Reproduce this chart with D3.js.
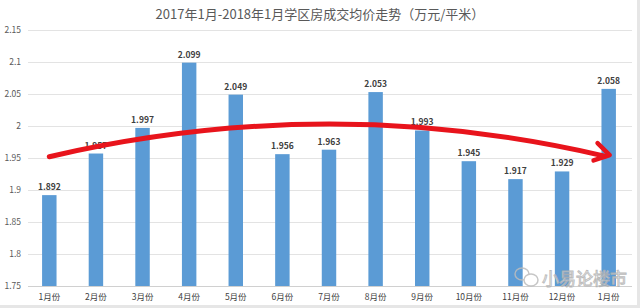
<!DOCTYPE html>
<html><head><meta charset="utf-8">
<script src="https://cdn.jsdelivr.net/npm/d3@7"></script>
<style>
body{margin:0;background:#fff;}
svg{display:block;font-family:"Noto Sans CJK SC","Noto Sans",sans-serif;}
</style></head>
<body><svg id="c" width="640" height="308"></svg>
<script>
const categories = ["1月份","2月份","3月份","4月份","5月份","6月份","7月份","8月份","9月份","10月份","11月份","12月份","1月份"];
const values = [1.892,1.957,1.997,2.099,2.049,1.956,1.963,2.053,1.993,1.945,1.917,1.929,2.058];
const yTicks = [1.75,1.8,1.85,1.9,1.95,2,2.05,2.1,2.15];
const yTickLabels = ["1.75","1.8","1.85","1.9","1.95","2","2.05","2.1","2.15"];
const title = "2017年1月-2018年1月学区房成交均价走势（万元/平米）";
// trend arrow annotation: [category index, value]
const trendIdx = [0, 6.0, 12];
const trendVal = [1.952, 2.003, 1.953];
const watermark = "小易论楼市";

const svg = d3.select("#c");
const x = d3.scaleBand().domain(d3.range(categories.length)).range([26, 632]).paddingInner(0.69).paddingOuter(0.345);
const y = d3.scaleLinear().domain([1.75, 2.15]).range([286, 30]);

svg.append("rect").attr("x",0).attr("y",0).attr("width",640).attr("height",308).attr("fill","#fff");
// frame shadow
svg.append("rect").attr("x",0).attr("y",305).attr("width",640).attr("height",3).attr("fill","#e6e6e6");
svg.append("rect").attr("x",637).attr("y",0).attr("width",3).attr("height",308).attr("fill","#e6e6e6");

svg.append("text").attr("x",320).attr("y",19).attr("text-anchor","middle")
  .attr("font-size",13).attr("fill","#595959").text(title);

// grid
svg.append("g").selectAll("line").data(yTicks).join("line")
  .attr("x1",28).attr("x2",632).attr("y1",d=>Math.round(y(d))+0.5).attr("y2",d=>Math.round(y(d))+0.5)
  .attr("stroke",(d,i)=>i===0?"#d0d0d0":"#e3e3e3").attr("stroke-width",1);
svg.append("g").selectAll("text").data(yTicks).join("text")
  .attr("x",21).attr("y",d=>y(d)+3).attr("text-anchor","end")
  .attr("font-size",8.5).attr("fill","#595959").text((d,i)=>yTickLabels[i]);

// bars
svg.append("g").selectAll("rect").data(values).join("rect")
  .attr("x",(d,i)=>x(i)).attr("width",x.bandwidth())
  .attr("y",d=>y(d)).attr("height",d=>y(1.75)-y(d)).attr("fill","#5b9bd5");

svg.append("g").selectAll("text").data(values).join("text")
  .attr("x",(d,i)=>x(i)+x.bandwidth()/2).attr("y",d=>y(d)-5).attr("text-anchor","middle")
  .attr("font-size",8.5).attr("font-weight","bold").attr("fill","#404040").text(d=>d.toFixed(3));

svg.append("g").selectAll("text").data(categories).join("text")
  .attr("x",(d,i)=>x(i)+x.bandwidth()/2).attr("y",300).attr("text-anchor","middle")
  .attr("font-size",8.5).attr("fill","#404040").text(d=>d);

// trend arrow
const cx = i => x(0)+x.bandwidth()/2 + i*x.step();
const p0=[cx(trendIdx[0]),y(trendVal[0])], pm=[cx(trendIdx[1]),y(trendVal[1])], p2=[cx(trendIdx[2]),y(trendVal[2])];
const c=[2*pm[0]-(p0[0]+p2[0])/2, 2*pm[1]-(p0[1]+p2[1])/2];
svg.append("path").attr("d",`M${p0[0]},${p0[1]} Q${c[0]},${c[1]} ${p2[0]-4},${p2[1]}`)
  .attr("fill","none").attr("stroke","#e8141c").attr("stroke-width",5).attr("stroke-linecap","round");
const ang = Math.atan2(p2[1]-c[1], p2[0]-c[0]);
const hl=17, hw=0.55;
const tip=[p2[0]+1,p2[1]-1];
const a1=[tip[0]-hl*Math.cos(ang-hw), tip[1]-hl*Math.sin(ang-hw)];
const a2=[tip[0]-hl*Math.cos(ang+hw), tip[1]-hl*Math.sin(ang+hw)];
svg.append("path").attr("d",`M${a1[0]},${a1[1]} L${tip[0]},${tip[1]} L${a2[0]},${a2[1]}`)
  .attr("fill","none").attr("stroke","#e8141c").attr("stroke-width",4.5).attr("stroke-linecap","round").attr("stroke-linejoin","round");

// watermark
const wm = svg.append("g").attr("opacity",0.85);
wm.append("ellipse").attr("cx",522).attr("cy",274).attr("rx",7).attr("ry",6).attr("fill","none").attr("stroke","#bdbdbd").attr("stroke-width",1.5);
wm.append("ellipse").attr("cx",531).attr("cy",280).attr("rx",7).attr("ry",6).attr("fill","#fff").attr("stroke","#bdbdbd").attr("stroke-width",1.5);
wm.append("text").attr("x",542).attr("y",285).attr("font-size",17).attr("fill","#fff")
  .attr("stroke","#b0b0b0").attr("stroke-width",0.9).text(watermark);
</script></body></html>
